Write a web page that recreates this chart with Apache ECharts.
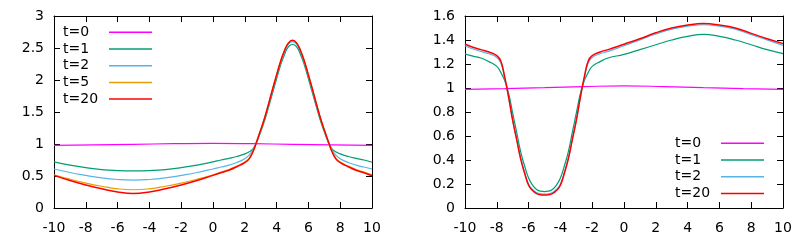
<!DOCTYPE html>
<html>
<head>
<meta charset="utf-8">
<script src="https://cdn.jsdelivr.net/npm/echarts@6/dist/echarts.min.js"></script>
<style>html,body{margin:0;padding:0;background:#fff}#c{width:808px;height:243px}</style>
</head>
<body>
<div id="c"></div>
<script>
// ---- data ----
const xTicks = [-10,-8,-6,-4,-2,0,2,4,6,8,10];
const yTicksLeft = [0,0.5,1,1.5,2,2.5,3];
const yTicksRight = [0,0.2,0.4,0.6,0.8,1,1.2,1.4,1.6];

const namesLeft = ['t=0','t=1','t=2','t=5','t=20'];
const namesRight = ['t=0','t=1','t=2','t=20'];

// left panel
const xsFlat = [-10,-7.5,-5,-2.5,0,2.5,5,7.5,10];
const leftT0 = [0.98,0.987,0.995,1.005,1.01,1.005,0.995,0.987,0.98];
const xsL = [-10,-9,-8,-7,-6,-5,-4,-3,-2,-1,0,0.5,1,1.5,2,2.25,2.5,2.75,3,3.25,3.5,3.75,4,4.25,4.5,4.75,5,5.25,5.5,5.75,6,6.25,6.5,6.75,7,7.25,7.5,7.75,8,8.5,9,9.5,10];
const leftT1 = [0.72,0.67,0.63,0.60,0.585,0.58,0.585,0.60,0.63,0.67,0.72,0.75,0.775,0.805,0.845,0.875,0.92,1.03,1.19,1.37,1.58,1.80,2.02,2.23,2.40,2.52,2.555,2.52,2.40,2.23,2.02,1.80,1.58,1.37,1.19,1.03,0.92,0.875,0.845,0.805,0.775,0.75,0.715];
const leftT2 = [0.61,0.555,0.51,0.47,0.445,0.435,0.445,0.47,0.51,0.555,0.61,0.64,0.67,0.71,0.77,0.82,0.90,1.03,1.21,1.40,1.61,1.84,2.06,2.27,2.44,2.56,2.60,2.56,2.44,2.27,2.06,1.84,1.61,1.40,1.21,1.03,0.90,0.82,0.77,0.71,0.67,0.64,0.61];
const leftT5 = [0.52,0.45,0.39,0.34,0.30,0.285,0.30,0.34,0.39,0.45,0.52,0.56,0.60,0.655,0.72,0.77,0.88,1.04,1.22,1.41,1.63,1.86,2.08,2.29,2.46,2.58,2.62,2.58,2.46,2.29,2.08,1.86,1.63,1.41,1.22,1.04,0.88,0.77,0.72,0.655,0.60,0.56,0.52];
const leftT20 = [0.51,0.43,0.36,0.30,0.25,0.227,0.25,0.30,0.36,0.43,0.51,0.55,0.59,0.645,0.71,0.76,0.87,1.04,1.22,1.41,1.63,1.86,2.08,2.29,2.46,2.58,2.62,2.58,2.46,2.29,2.08,1.86,1.63,1.41,1.22,1.04,0.87,0.76,0.71,0.645,0.59,0.55,0.505];

// right panel
const rightT0 = [0.989,0.995,1.003,1.012,1.017,1.012,1.003,0.995,0.989];
const xsR = [-10,-9.5,-9,-8.5,-8,-7.75,-7.5,-7.25,-7,-6.75,-6.5,-6.25,-6,-5.75,-5.5,-5.25,-5,-4.75,-4.5,-4.25,-4,-3.75,-3.5,-3.25,-3,-2.75,-2.5,-2.25,-2,-1.5,-1,0,1,2,3,4,5,6,7,8,9,10];
const rightT1 = [1.283,1.265,1.25,1.22,1.18,1.13,1.06,0.95,0.79,0.63,0.47,0.35,0.25,0.19,0.155,0.14,0.137,0.14,0.155,0.19,0.25,0.35,0.47,0.63,0.79,0.95,1.06,1.13,1.18,1.22,1.25,1.28,1.32,1.36,1.40,1.43,1.447,1.43,1.40,1.36,1.32,1.287];
const rightT2 = [1.352,1.325,1.305,1.285,1.255,1.21,1.08,0.915,0.73,0.575,0.42,0.30,0.20,0.155,0.13,0.118,0.115,0.118,0.13,0.155,0.20,0.30,0.42,0.575,0.73,0.915,1.08,1.21,1.255,1.285,1.305,1.352,1.40,1.45,1.49,1.515,1.527,1.515,1.49,1.445,1.40,1.355];
const rightT20 = [1.367,1.34,1.32,1.30,1.27,1.225,1.09,0.92,0.73,0.57,0.41,0.29,0.19,0.145,0.12,0.11,0.108,0.11,0.12,0.145,0.19,0.29,0.41,0.57,0.73,0.92,1.09,1.225,1.27,1.30,1.32,1.365,1.41,1.46,1.50,1.525,1.537,1.525,1.50,1.455,1.41,1.37];

const colors = {'t=0':'#ff00ff','t=1':'#009e73','t=2':'#56b4e9','t=5':'#e69f00','t=20':'#ff0000'};
const FONT = 'DejaVu Sans';

function pairs(xs, ys){ return xs.map((x,i)=>[x, ys[i]]); }

function mkSeries(name, xs, ys, xi, yi){
  return {
    name, type:'line', xAxisIndex:xi, yAxisIndex:yi,
    data: pairs(xs, ys), showSymbol:false, symbol:'none',
    smooth:0.5,
    lineStyle:{color:colors[name], width: name==='t=20'?1.5:1.2},
    itemStyle:{color:colors[name]}, z: 2
  };
}

const axisLine = {show:true, onZero:false, lineStyle:{color:'#000', width:1}};
const tickIn = {show:true, inside:true, length:6, lineStyle:{color:'#000', width:1}};
const lbl = {color:'#000', fontFamily:FONT, fontSize:14};

function xAxes(gi){
  return [
    {type:'value', gridIndex:gi, min:xTicks[0], max:xTicks[xTicks.length-1], interval:2, position:'bottom',
     axisLine, axisTick:tickIn, splitLine:{show:false}, axisLabel:Object.assign({margin:13}, lbl)},
    {type:'value', gridIndex:gi, min:xTicks[0], max:xTicks[xTicks.length-1], interval:2, position:'top',
     axisLine, axisTick:tickIn, splitLine:{show:false}, axisLabel:{show:false}}
  ];
}
function yAxes(gi, ticks){
  const mn = ticks[0], mx = ticks[ticks.length-1], iv = ticks[1]-ticks[0];
  return [
    {type:'value', gridIndex:gi, min:mn, max:mx, interval:iv, position:'left',
     axisLine, axisTick:tickIn, splitLine:{show:false}, axisLabel:Object.assign({margin:10}, lbl)},
    {type:'value', gridIndex:gi, min:mn, max:mx, interval:iv, position:'right',
     axisLine, axisTick:tickIn, splitLine:{show:false}, axisLabel:{show:false}}
  ];
}

const legendCommon = {
  orient:'vertical', align:'right', icon:'rect', itemWidth:43, itemHeight:1.5, itemGap:2.7, padding:0,
  selectedMode:false,
  formatter:'{a|{name}}',
  textStyle:{color:'#000', fontFamily:FONT, fontSize:14, rich:{a:{width:41, height:14, lineHeight:14, align:'left', fontFamily:FONT, fontSize:14, color:'#000'}}}
};

const option = {
  animation:false,
  backgroundColor:'#fff',
  grid:[
    {left:54, right:436, top:16, bottom:35},
    {left:465, right:25, top:16, bottom:35}
  ],
  xAxis:[...xAxes(0), ...xAxes(1)],
  yAxis:[...yAxes(0, yTicksLeft), ...yAxes(1, yTicksRight)],
  legend:[
    Object.assign({}, legendCommon, {left:63, top:25.3, data:namesLeft}),
    Object.assign({}, legendCommon, {left:675, top:136.3, data:namesRight})
  ],
  series:[
    mkSeries('t=0', xsFlat, leftT0, 0, 0),
    mkSeries('t=1', xsL, leftT1, 0, 0),
    mkSeries('t=2', xsL, leftT2, 0, 0),
    mkSeries('t=5', xsL, leftT5, 0, 0),
    mkSeries('t=20', xsL, leftT20, 0, 0),
    mkSeries('t=0', xsFlat, rightT0, 2, 2),
    mkSeries('t=1', xsR, rightT1, 2, 2),
    mkSeries('t=2', xsR, rightT2, 2, 2),
    mkSeries('t=20', xsR, rightT20, 2, 2)
  ]
};
const chart = echarts.init(document.getElementById('c'), null, {renderer:'canvas'});
chart.setOption(option);
</script>
</body>
</html>
